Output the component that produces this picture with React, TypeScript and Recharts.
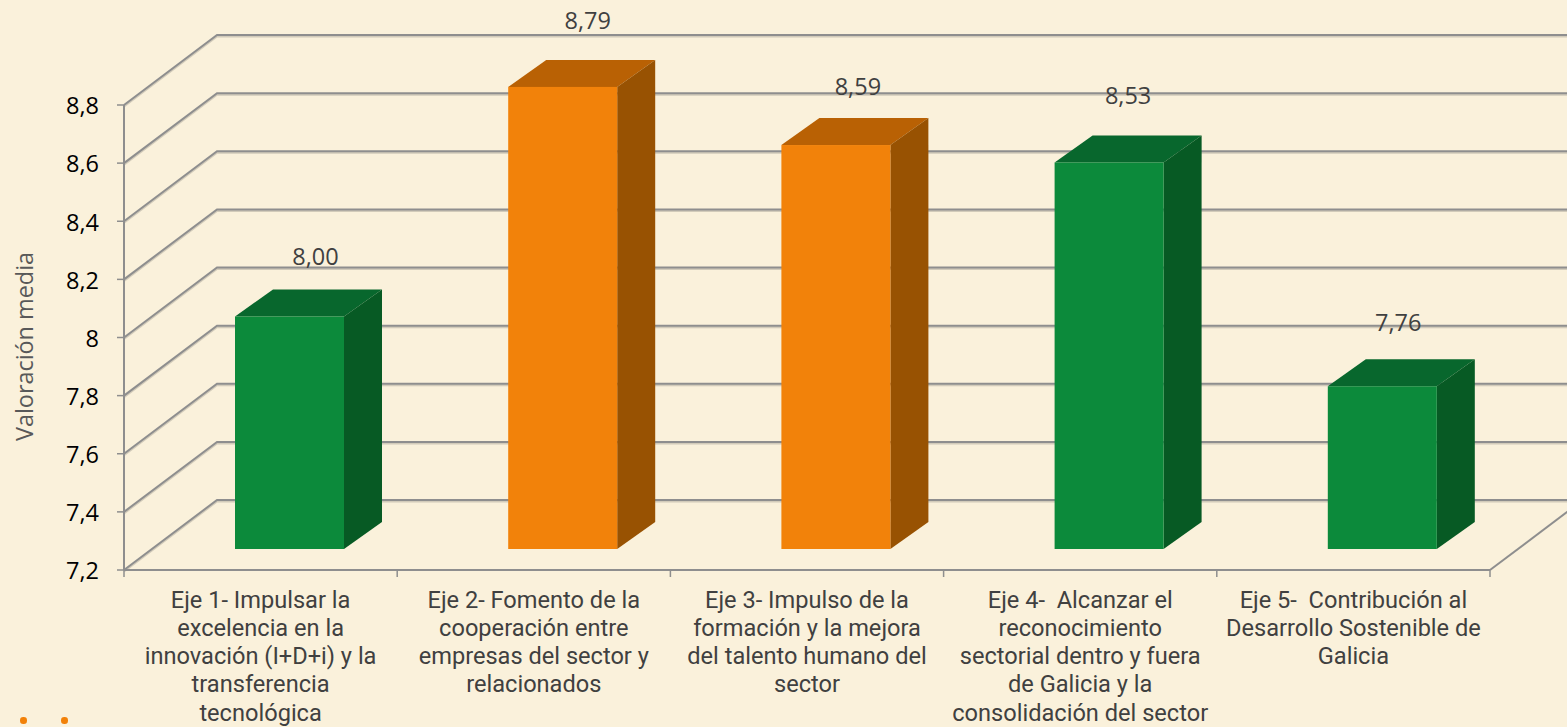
import React from 'react';
import { BarChart, Bar, XAxis, YAxis, CartesianGrid, LabelList } from 'recharts';

const CHART_WIDTH = 1567;
const CHART_HEIGHT = 727;
const MARGIN = { top: 105, right: 77, bottom: 0, left: 0 };
const PLOT_BOTTOM = 570;
const PLOT_WIDTH = 1366;

const categories = ['Eje 1', 'Eje 2', 'Eje 3', 'Eje 4', 'Eje 5'];
const categoryLines = [
  ['Eje 1- Impulsar la', 'excelencia en la', 'innovación (I+D+i) y la', 'transferencia', 'tecnológica'],
  ['Eje 2- Fomento de la', 'cooperación entre', 'empresas del sector y', 'relacionados'],
  ['Eje 3- Impulso de la', 'formación y la mejora', 'del talento humano del', 'sector'],
  ['Eje 4-  Alcanzar el', 'reconocimiento', 'sectorial dentro y fuera', 'de Galicia y la', 'consolidación del sector'],
  ['Eje 5-  Contribución al', 'Desarrollo Sostenible de', 'Galicia'],
];
const values = [8.0, 8.79, 8.59, 8.53, 7.76];
const barTones = ['green', 'orange', 'orange', 'green', 'green'];
const yTicks = [7.2, 7.4, 7.6, 7.8, 8, 8.2, 8.4, 8.6, 8.8];

// hand placed value labels, relative to the top centre of each bar
const labelNudges = [
  [26, -61],
  [25, -67],
  [22, -59],
  [19, -67.5],
  [16, -64],
];

const palette: Record<string, { front: string; side: string; top: string }> = {
  green: { front: '#0C8A3B', side: '#075A24', top: '#08672D' },
  orange: { front: '#F2820A', side: '#985202', top: '#B96104' },
};

const chartData = categories.map((name, i) => ({ name, value: values[i], tone: barTones[i] }));

const DEPTH_X = 93;
const DEPTH_Y = 70;
const BAR_OFFSET_X = 29;
const BAR_OFFSET_Y = 21;
const BAR_DEPTH_X = 38;
const BAR_DEPTH_Y = 27;

const LINE = '#8E8E8E';
const SHADOW = 'rgba(70,70,70,0.22)';

const gridLine = (props: any) => {
  const { x1, x2, y1, key } = props;
  const path = `M${x1},${y1} L${x1 + DEPTH_X},${y1 - DEPTH_Y} L${x2 + DEPTH_X},${y1 - DEPTH_Y}`;
  const isFloor = Math.abs(y1 - PLOT_BOTTOM) < 1;
  const floorEdge = `M${x2},${y1} L${x2 + DEPTH_X},${y1 - DEPTH_Y}`;
  return (
    <g key={key}>
      <path d={path} fill="none" stroke={SHADOW} strokeWidth={2} transform="translate(0,1.5)" />
      <path d={path} fill="none" stroke={LINE} strokeWidth={2} />
      {isFloor && <path d={floorEdge} fill="none" stroke={LINE} strokeWidth={2} />}
    </g>
  );
};

const Bar3D = (props: any) => {
  const { x, y, width, height, tone } = props;
  const c = palette[tone];
  const left = x + BAR_OFFSET_X;
  const right = left + width;
  const top = y - BAR_OFFSET_Y;
  const bottom = top + height;
  return (
    <g>
      <polygon
        points={`${left},${top} ${right},${top} ${right + BAR_DEPTH_X},${top - BAR_DEPTH_Y} ${left + BAR_DEPTH_X},${top - BAR_DEPTH_Y}`}
        fill={c.top}
      />
      <polygon
        points={`${right},${top} ${right + BAR_DEPTH_X},${top - BAR_DEPTH_Y} ${right + BAR_DEPTH_X},${bottom - BAR_DEPTH_Y} ${right},${bottom}`}
        fill={c.side}
      />
      <rect x={left} y={top} width={width} height={height} fill={c.front} />
    </g>
  );
};

const ValueLabel = (props: any) => {
  const { x, y, width, value, index } = props;
  const [dx, dy] = labelNudges[index];
  return (
    <text
      x={x + BAR_OFFSET_X + width / 2 + dx}
      y={y - BAR_OFFSET_Y + dy}
      textAnchor="middle"
      dominantBaseline="central"
      fontFamily="Open Sans"
      fontSize={23.5}
      fill="#404040"
    >
      {Number(value).toFixed(2).replace('.', ',')}
    </text>
  );
};

const CategoryTick = (props: any) => {
  const { x, y, index } = props;
  const band = PLOT_WIDTH / categories.length;
  const lines = categoryLines[index];
  return (
    <g>
      <line x1={x - band / 2} x2={x - band / 2} y1={PLOT_BOTTOM} y2={PLOT_BOTTOM + 7} stroke={LINE} strokeWidth={1.5} />
      {index === categories.length - 1 && (
        <line x1={x + band / 2} x2={x + band / 2} y1={PLOT_BOTTOM} y2={PLOT_BOTTOM + 7} stroke={LINE} strokeWidth={1.5} />
      )}
      {lines.map((line, i) => (
        <text
          key={i}
          x={x}
          y={y + 21.5 + i * 28.3}
          textAnchor="middle"
          dominantBaseline="central"
          xmlSpace="preserve"
          fontFamily="Roboto"
          fontSize={23.6}
          fill="#404040"
        >
          {line}
        </text>
      ))}
    </g>
  );
};

export default function App() {
  return (
    <div style={{ position: 'absolute', left: 0, top: 0, width: CHART_WIDTH, height: CHART_HEIGHT, background: '#FAF1DB', overflow: 'hidden' }}>
      <BarChart width={CHART_WIDTH} height={CHART_HEIGHT} data={chartData} margin={MARGIN}>
        <CartesianGrid vertical={false} horizontal={gridLine} />
        <XAxis
          dataKey="name"
          height={157}
          axisLine={{ stroke: LINE, strokeWidth: 2 }}
          tickLine={false}
          interval={0}
          tick={<CategoryTick />}
        />
        <YAxis
          width={124}
          domain={[7.2, 8.8]}
          ticks={yTicks}
          interval={0}
          axisLine={{ stroke: LINE, strokeWidth: 2 }}
          tickLine={{ stroke: LINE, strokeWidth: 1.5 }}
          tickSize={7}
          tickMargin={18}
          tick={{ fontFamily: 'Open Sans', fontSize: 23.5, fill: '#000000', dy: 1 }}
          tickFormatter={(v: number) => String(v).replace('.', ',')}
          label={{
            value: 'Valoración media',
            angle: -90,
            position: 'insideLeft',
            offset: 25,
            dy: 9,
            textAnchor: 'middle',
            fontFamily: 'Open Sans',
            fontSize: 23.4,
            fill: '#595959',
          }}
        />
        <Bar dataKey="value" barSize={109} isAnimationActive={false} shape={<Bar3D />}>
          <LabelList dataKey="value" content={<ValueLabel />} />
        </Bar>
      </BarChart>
      <div style={{ position: 'absolute', left: 20, top: 717, width: 6.5, height: 6.5, borderRadius: '50%', background: '#F28108' }} />
      <div style={{ position: 'absolute', left: 61, top: 717, width: 6.5, height: 6.5, borderRadius: '50%', background: '#F28108' }} />
    </div>
  );
}
